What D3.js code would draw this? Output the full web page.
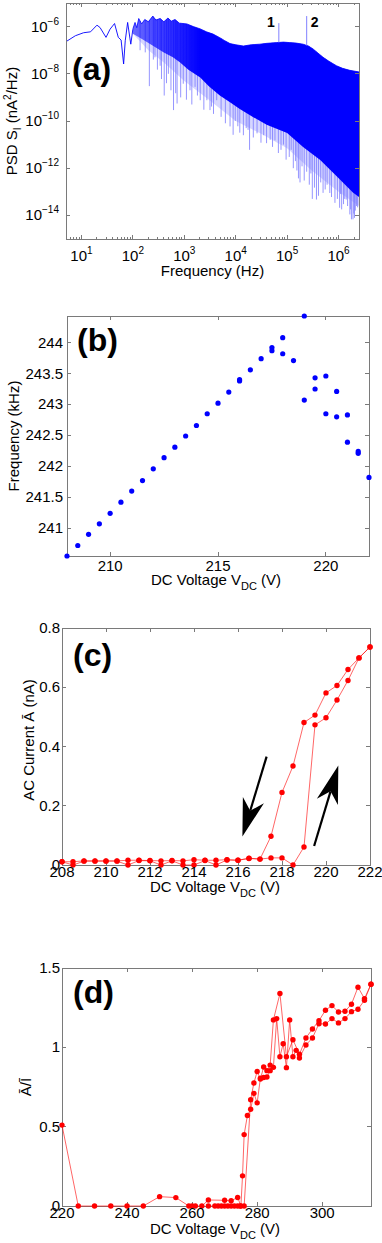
<!DOCTYPE html>
<html>
<head>
<meta charset="utf-8">
<script src="https://cdnjs.cloudflare.com/ajax/libs/d3/7.8.5/d3.min.js"></script>
<style>
  body { margin: 0; background: #fff; }
  text { font-family: "Liberation Sans", Arial, Helvetica, sans-serif; fill: #000; }
</style>
</head>
<body>
<div id="viz"></div>
<script>
// ========================================
// Data
// ========================================

// (a) PSD spectrum, [frequency Hz, PSD nA^2/Hz]
var psdLowLine = [[5, 2.3e-7], [7.6, 4.1e-7], [11, 5.5e-7], [15, 6.0e-7], [20, 1.15e-6], [23, 9.1e-7],
  [30, 3.5e-7], [36, 7.8e-7], [44, 1.35e-6], [52, 3.5e-7], [59, 2.7e-7], [66, 2.6e-8], [71, 2.5e-7],
  [79, 1.5e-6], [91, 1.8e-7], [100, 7.8e-7]];
var psdUpper = [[100, 8e-7], [110, 1.5e-6], [119, 9e-7], [130, 2.2e-6], [148, 1.3e-6], [170, 2.0e-6],
  [200, 1.6e-6], [244, 2.8e-6], [280, 1.9e-6], [339, 2.2e-6], [400, 1.6e-6], [480, 2.3e-6], [560, 1.7e-6],
  [660, 2.0e-6], [800, 1.4e-6], [1120, 1.3e-6], [1500, 1.0e-6], [2040, 8e-7], [2700, 6e-7], [3630, 4.8e-7],
  [4900, 3.4e-7], [6000, 2.6e-7], [7760, 1.9e-7], [1.0e4, 1.7e-7], [1.41e4, 1.5e-7], [2.0e4, 1.7e-7],
  [2.95e4, 1.8e-7], [4.0e4, 1.95e-7], [6.3e4, 2.1e-7], [8.5e4, 2.2e-7], [1.12e5, 2.1e-7], [1.5e5, 2.0e-7],
  [2.04e5, 1.8e-7], [2.6e5, 1.5e-7], [3.24e5, 1.1e-7], [4.0e5, 7.5e-8], [5.0e5, 5.0e-8], [6.5e5, 3.4e-8],
  [9.1e5, 2.2e-8], [1.2e6, 1.7e-8], [1.66e6, 1.4e-8], [2.5e6, 1.2e-8]];
var psdLower = [[100, 5e-7], [150, 3e-7], [250, 1.5e-7], [400, 8e-8], [600, 5e-8], [830, 3e-8],
  [1200, 1.5e-8], [2040, 7e-9], [3000, 3e-9], [4900, 1.2e-9], [8000, 6e-10], [1.2e4, 3.2e-10],
  [2.2e4, 1.45e-10], [4e4, 7e-11], [1e5, 3.1e-11], [2.04e5, 8e-12], [4.4e5, 2.2e-12], [9.3e5, 4.4e-13],
  [1.9e6, 9.3e-14], [2.5e6, 6e-14]];
var psdFringe = [[100, 5e-7], [200, 1e-7], [400, 3e-8], [1000, 5e-9], [3000, 8e-10], [1e4, 1e-10],
  [3e4, 3e-11], [1e5, 7e-12], [3e5, 8e-13], [1e6, 1e-13], [2.5e6, 2.5e-14]];
var psdSpikes = [[138, 1.0e-7], [174, 8.1e-8], [209, 3.0e-9], [250, 4e-8], [269, 5.0e-8], [300, 1.5e-8],
  [339, 2.2e-8], [360, 6e-9], [407, 1.2e-9], [450, 4e-9], [490, 1.0e-8], [550, 2e-9], [617, 2.9e-10],
  [680, 1.5e-9], [724, 5.5e-10], [850, 1e-9], [955, 3.8e-9], [1100, 8e-10], [1290, 2.0e-9], [1400, 5e-10],
  [1620, 2.8e-9], [1800, 1.2e-9], [2040, 7.6e-10], [2400, 3e-10], [2750, 7.6e-10], [3160, 2.9e-10],
  [3390, 4.1e-10], [3700, 2e-10], [4270, 7.6e-10], [5200, 1.5e-10], [6300, 8e-11], [7760, 5.9e-11],
  [8910, 2.6e-11], [9800, 1e-10], [11000, 6e-11], [12000, 3.2e-11], [14100, 2.5e-11], [16000, 5e-11],
  [17400, 4.2e-11], [18600, 6.0e-12], [22000, 2e-11], [26000, 3e-11], [31000, 1.2e-11], [35000, 2.5e-11],
  [39800, 1.15e-11], [46800, 1.6e-11], [52000, 8e-12], [58000, 1.5e-11], [67600, 4.4e-12], [76000, 6e-12],
  [85000, 1e-11], [95500, 2.3e-12], [110000, 3e-12], [120000, 6e-12], [132000, 1.0e-12], [145000, 2e-12],
  [155000, 8e-13], [166000, 3.7e-13], [178000, 2.5e-13], [195000, 1.2e-12], [215000, 3e-13],
  [240000, 7.1e-13], [270000, 2e-13], [290000, 6e-13], [309000, 5.0e-14], [340000, 1.5e-13],
  [372000, 4.7e-14], [407000, 6.8e-14], [450000, 2.5e-13], [500000, 9e-14], [550000, 1.26e-13],
  [600000, 2e-13], [676000, 8.9e-14], [730000, 6e-14], [851000, 3.4e-14], [950000, 5e-14],
  [1.05e6, 2.1e-14], [1.1e6, 8e-14], [1.15e6, 1.8e-14], [1.25e6, 3e-14], [1.32e6, 5.0e-14],
  [1.41e6, 4.7e-14], [1.5e6, 2.5e-14], [1.66e6, 1.1e-14], [1.72e6, 1.8e-14], [1.78e6, 6.8e-15],
  [1.91e6, 6.8e-15], [1.98e6, 1.2e-14], [2.04e6, 7.9e-15], [2.12e6, 1.6e-14], [2.24e6, 2.5e-14],
  [2.35e6, 2.2e-14]];
var psdPeaks = [{label: '1', f: 69000, psd: 1.4e-6}, {label: '2', f: 240000, psd: 2.8e-6}];
var psdXTicks = [1e1, 1e2, 1e3, 1e4, 1e5, 1e6];
var psdYTicks = [1e-14, 1e-12, 1e-10, 1e-8, 1e-6];

// (b) resonance frequency vs DC voltage
var bVolt = [208, 208.5, 209, 209.5, 210, 210.5, 211, 211.5, 212, 212.5, 213, 213.5, 214, 214.5, 215, 215.5,
  216, 216, 216.5, 217, 217.5, 217.5, 218, 218, 218.5, 219, 219, 219.5, 219.5, 220, 220, 220.5, 220.5,
  221, 221, 221.5, 221.5, 222];
var bFreq = [240.55, 240.72, 240.90, 241.07, 241.24, 241.42, 241.60, 241.77, 241.96, 242.14, 242.31, 242.49,
  242.66, 242.85, 243.02, 243.20, 243.38, 243.40, 243.56, 243.74, 243.92, 243.87, 244.08, 243.82, 243.71,
  244.43, 243.07, 243.43, 243.25, 243.46, 242.85, 243.21, 242.80, 242.83, 242.39, 242.24, 242.21, 241.82];
var bXTicks = [210, 215, 220];
var bYTicks = [241, 241.5, 242, 242.5, 243, 243.5, 244];

// (c) AC current, two sweeps
var cVolt = [208, 208.5, 209, 209.5, 210, 210.5, 211, 211.5, 212, 212.5, 213, 213.5, 214, 214.5, 215, 215.5,
  216, 216.5, 217, 217.5, 218, 218.5, 219, 219.5, 220, 220.5, 221, 221.5, 222];
var cSweepDown = [0.011, 0.011, 0.014, 0.014, 0.014, 0.014, 0.016, 0.016, 0.015, 0.014, 0.015, 0.014, 0.018,
  0.016, 0.016, 0.018, 0.016, 0.023, 0.020, 0.097, 0.245, 0.334, 0.481, 0.506, 0.581, 0.606, 0.660, 0.699, 0.736];
var cSweepUp = [0.011, 0.0, 0.013, 0.013, 0.013, 0.013, 0.0, 0.015, 0.014, 0.0, 0.014, 0.0, 0.0, 0.015, 0.0,
  0.017, 0.016, 0.022, 0.020, 0.024, 0.024, 0.0, 0.061, 0.473, 0.497, 0.557, 0.623, 0.699, 0.736];
var cXTicks = [208, 210, 212, 214, 216, 218, 220, 222];
var cYTicks = [0, 0.2, 0.4, 0.6, 0.8];
var cArrows = [{from: [217.3, 0.366], to: [216.2, 0.096]}, {from: [219.46, 0.064], to: [220.56, 0.336]}];

// (d) normalised AC current, two sweeps
var dUpVolt = [220, 225, 230, 235, 240, 245, 250, 255, 259, 260, 261, 263, 265, 270, 272, 274, 275, 275.5, 276,
  277, 278, 279, 280, 281, 282, 283, 284, 285, 286, 287, 288, 289, 290, 291, 292, 293, 295, 297, 299, 301,
  303, 305, 307, 309, 311, 313, 315];
var dUpRatio = [0.51, 0, 0, 0, 0, 0, 0.059, 0.053, 0, 0, 0, 0, 0.038, 0.036, 0.033, 0.054, 0, 0.19, 0.45,
  0.57, 0.61, 0.71, 0.65, 0.806, 0.81, 0.813, 0.853, 0.874, 1.181, 0.941, 1.023, 0.872, 1.173, 0.941, 0.981,
  0.933, 1.015, 1.059, 1.149, 1.147, 1.181, 1.154, 1.181, 1.225, 1.240, 1.297, 1.398];
var dDownVolt = [265, 267, 268, 269, 270, 271, 272, 273, 274, 274.8, 276, 278, 279, 280, 281, 282, 283, 284,
  285, 287, 289, 291, 293, 295, 297, 299, 301, 303, 305, 307, 309, 311, 313, 315];
var dDownRatio = [0, 0, 0, 0, 0, 0, 0, 0, 0, 0, 0, 0.67, 0.775, 0.848, 0.80, 0.876, 0.853, 0.888, 1.173,
  1.339, 0.941, 1.048, 0.956, 1.059, 1.116, 1.168, 1.234, 1.263, 1.223, 1.227, 1.272, 1.379, 1.307, 1.398];
var dXTicks = [220, 240, 260, 280, 300];
var dYTicks = [0, 0.5, 1, 1.5];

// ========================================
// SVG setup
// ========================================

var frame_color = '#7a7a7a',
    blue = '#0000ff',
    red = '#ff0000',
    tick_len = 4,
    font_size = 15;

var svg = d3.select('#viz')
   .append('svg')
   .attr('width', 382)
   .attr('height', 1243);

var defs = svg.append('defs');

function clipFor(id, x, y) {
   defs.append('clipPath').attr('id', id)
      .append('rect')
      .attr('x', x.range()[0]).attr('y', y.range()[1])
      .attr('width', x.range()[1] - x.range()[0])
      .attr('height', y.range()[0] - y.range()[1]);
   return 'url(#' + id + ')';
}

// box with inward ticks on all four sides
function drawFrame(x, y, xTicks, yTicks, xMinor) {
   var g = svg.append('g').attr('shape-rendering', 'crispEdges');
   var x0 = x.range()[0], x1 = x.range()[1], yb = y.range()[0], yt = y.range()[1];
   var segs = [];
   xTicks.forEach(t => { segs.push([x(t), yb, x(t), yb - tick_len], [x(t), yt, x(t), yt + tick_len]); });
   (xMinor || []).forEach(t => { segs.push([x(t), yb, x(t), yb - 2], [x(t), yt, x(t), yt + 2]); });
   yTicks.forEach(t => { segs.push([x0, y(t), x0 + tick_len, y(t)], [x1, y(t), x1 - tick_len, y(t)]); });
   g.selectAll('line').data(segs).enter().append('line')
      .attr('x1', d => d[0]).attr('y1', d => d[1])
      .attr('x2', d => d[2]).attr('y2', d => d[3])
      .style('stroke', frame_color).style('stroke-width', 1);
   g.append('rect')
      .attr('x', x0).attr('y', yt).attr('width', x1 - x0).attr('height', yb - yt)
      .style('fill', 'none').style('stroke', frame_color).style('stroke-width', 1);
}

function xTickLabels(x, yPos, ticks) {
   svg.append('g').selectAll('text').data(ticks).enter().append('text')
      .attr('x', d => x(d)).attr('y', yPos)
      .attr('text-anchor', 'middle')
      .style('font-size', font_size + 'px')
      .text(d => String(d));
}

function yTickLabels(y, xPos, ticks) {
   svg.append('g').selectAll('text').data(ticks).enter().append('text')
      .attr('x', xPos).attr('y', d => y(d) + 5)
      .attr('text-anchor', 'end')
      .style('font-size', font_size + 'px')
      .text(d => String(d));
}

function panelLetter(x, y, s) {
   svg.append('text').attr('x', x).attr('y', y)
      .style('font-size', '32px').style('font-weight', 'bold')
      .text(s);
}

function voltageLabel(cx, y) {
   var t = svg.append('text').attr('x', cx).attr('y', y)
      .attr('text-anchor', 'middle').style('font-size', font_size + 'px');
   t.append('tspan').text('DC Voltage V');
   t.append('tspan').attr('dy', 5).style('font-size', '11px').text('DC');
   t.append('tspan').attr('dy', -5).text(' (V)');
}

function yLabel(x, cy) {
   return svg.append('text')
      .attr('transform', `translate(${x}, ${cy}) rotate(-90)`)
      .attr('text-anchor', 'middle')
      .style('font-size', font_size + 'px');
}

// ========================================
// (a) PSD
// ========================================

var xA = d3.scaleLog().domain([5, 2.5e6]).range([66, 359]);
var yA = d3.scaleLog().domain([1e-15, 1e-5]).range([239, 3]);
var gA = svg.append('g').attr('clip-path', clipFor('clipA', xA, yA));

var ptA = d => [xA(d[0]), yA(d[1])];
var lineGen = d3.line();

// piecewise lookup of the band top in pixel space
var upperPx = d3.scaleLinear()
   .domain(psdUpper.map(d => xA(d[0])))
   .range(psdUpper.map(d => yA(d[1])));

var grad = defs.append('linearGradient').attr('id', 'bandGrad')
   .attr('gradientUnits', 'userSpaceOnUse')
   .attr('x1', xA(100)).attr('x2', xA(2000)).attr('y1', 0).attr('y2', 0);
grad.append('stop').attr('offset', 0).attr('stop-color', blue).attr('stop-opacity', 0.5);
grad.append('stop').attr('offset', 1).attr('stop-color', blue).attr('stop-opacity', 1);

// light fringe of downward excursions
gA.append('path')
   .attr('d', lineGen(psdUpper.map(ptA).concat(psdFringe.slice().reverse().map(ptA))) + 'Z')
   .style('fill', blue).style('fill-opacity', 0.16);

gA.selectAll('.spike').data(psdSpikes).enter().append('line')
   .attr('class', 'spike')
   .attr('x1', d => xA(d[0])).attr('x2', d => xA(d[0]))
   .attr('y1', d => upperPx(xA(d[0]))).attr('y2', d => yA(d[1]))
   .style('stroke', '#7a7aff').style('stroke-width', 0.8);

// dense band
gA.append('path')
   .attr('d', lineGen(psdUpper.map(ptA).concat(psdLower.slice().reverse().map(ptA))) + 'Z')
   .style('fill', 'url(#bandGrad)');

gA.append('path')
   .attr('d', lineGen(psdUpper.map(ptA)))
   .style('fill', 'none').style('stroke', blue).style('stroke-width', 0.8);

gA.append('path')
   .attr('d', lineGen(psdLowLine.map(ptA)))
   .style('fill', 'none').style('stroke', blue).style('stroke-width', 0.9);

gA.selectAll('.peak').data(psdPeaks).enter().append('line')
   .attr('class', 'peak')
   .attr('x1', d => xA(d.f)).attr('x2', d => xA(d.f))
   .attr('y1', d => upperPx(xA(d.f))).attr('y2', d => yA(d.psd))
   .style('stroke', '#8080ff').style('stroke-width', 1);

svg.selectAll('.peakLabel').data(psdPeaks).enter().append('text')
   .attr('x', (d, i) => i === 0 ? xA(d.f) - 4 : xA(d.f) + 4)
   .attr('y', 27)
   .attr('text-anchor', (d, i) => i === 0 ? 'end' : 'start')
   .style('font-size', '14px').style('font-weight', 'bold')
   .text(d => d.label);

var minorA = [];
[1, 10, 100, 1000, 1e4, 1e5, 1e6].forEach(dec => {
   [2, 3, 4, 5, 6, 7, 8, 9].forEach(m => {
      var v = dec * m;
      if (v >= 5 && v <= 2.5e6) minorA.push(v);
   });
});
drawFrame(xA, yA, psdXTicks, psdYTicks, minorA);

// power-of-ten tick labels
psdXTicks.forEach(t => {
   var txt = svg.append('text').attr('x', xA(t)).attr('y', 261)
      .attr('text-anchor', 'middle').style('font-size', font_size + 'px');
   txt.append('tspan').text('10');
   txt.append('tspan').attr('dy', -7).style('font-size', '10px').text(String(Math.round(Math.log10(t))));
});
psdYTicks.forEach(t => {
   var txt = svg.append('text').attr('x', 59).attr('y', yA(t) + 5)
      .attr('text-anchor', 'end').style('font-size', font_size + 'px');
   txt.append('tspan').text('10');
   txt.append('tspan').attr('dy', -7).style('font-size', '10px')
      .text('\u2212' + String(-Math.round(Math.log10(t))));
});

svg.append('text').attr('x', 212.5).attr('y', 276)
   .attr('text-anchor', 'middle').style('font-size', font_size + 'px')
   .text('Frequency (Hz)');

var labA = yLabel(17, 121);
labA.append('tspan').text('PSD S');
labA.append('tspan').attr('dy', 4).style('font-size', '10px').text('I');
labA.append('tspan').attr('dy', -4).text(' (nA');
labA.append('tspan').attr('dy', -6).style('font-size', '10px').text('2');
labA.append('tspan').attr('dy', 6).text('/Hz)');

panelLetter(72, 80, '(a)');

// ========================================
// (b) frequency vs voltage
// ========================================

var xB = d3.scaleLinear().domain(d3.extent(bVolt)).range([67, 369]);
var yB = d3.scaleLinear().domain(d3.extent(bFreq)).range([556, 316]);

drawFrame(xB, yB, bXTicks, bYTicks);

svg.append('g').selectAll('circle').data(bVolt).enter().append('circle')
   .attr('cx', d => xB(d)).attr('cy', (d, i) => yB(bFreq[i]))
   .attr('r', 2.6).style('fill', blue);

xTickLabels(xB, 571, bXTicks);
yTickLabels(yB, 63, bYTicks);
voltageLabel(216, 585);
yLabel(19, 436).text('Frequency (kHz)');
panelLetter(77, 351, '(b)');

// ========================================
// (c) AC current
// ========================================

var xC = d3.scaleLinear().domain(d3.extent(cVolt)).range([62, 370]);
var yC = d3.scaleLinear().domain([0, 0.8]).range([865, 628]);

drawFrame(xC, yC, cXTicks, cYTicks);

var lineC = d3.line().x(d => xC(d[0])).y(d => yC(d[1]));
[cSweepDown, cSweepUp].forEach(series => {
   var pts = cVolt.map((v, i) => [v, series[i]]);
   svg.append('path').attr('d', lineC(pts))
      .style('fill', 'none').style('stroke', red).style('stroke-opacity', 0.6).style('stroke-width', 1);
   svg.append('g').selectAll('circle').data(pts).enter().append('circle')
      .attr('cx', d => xC(d[0])).attr('cy', d => yC(d[1]))
      .attr('r', 2.7).style('fill', red);
});

// annotation arrows
cArrows.forEach(a => {
   var x1 = xC(a.from[0]), y1 = yC(a.from[1]), x2 = xC(a.to[0]), y2 = yC(a.to[1]);
   var ang = Math.atan2(y2 - y1, x2 - x1);
   var ux = Math.cos(ang), uy = Math.sin(ang), nx = -uy, ny = ux;
   var headLen = 38, half = 11, notch = 27;
   svg.append('line')
      .attr('x1', x1).attr('y1', y1)
      .attr('x2', x2 - ux * notch).attr('y2', y2 - uy * notch)
      .style('stroke', '#000').style('stroke-width', 2.2);
   var head = [
      [x2, y2],
      [x2 - ux * headLen + nx * half, y2 - uy * headLen + ny * half],
      [x2 - ux * notch, y2 - uy * notch],
      [x2 - ux * headLen - nx * half, y2 - uy * headLen - ny * half]
   ];
   svg.append('path').attr('d', d3.line()(head) + 'Z').style('fill', '#000');
});

xTickLabels(xC, 877, cXTicks);
yTickLabels(yC, 60, cYTicks);
voltageLabel(215, 892);
yLabel(34, 740).text('AC Current \u0100 (nA)');
panelLetter(73, 666, '(c)');

// ========================================
// (d) normalised current
// ========================================

var xD = d3.scaleLinear().domain([220, 315]).range([62, 371]);
var yD = d3.scaleLinear().domain([0, 1.5]).range([1206, 968]);

drawFrame(xD, yD, dXTicks, dYTicks);

var lineD = d3.line().x(d => xD(d[0])).y(d => yD(d[1]));
[[dUpVolt, dUpRatio], [dDownVolt, dDownRatio]].forEach(s => {
   var pts = s[0].map((v, i) => [v, s[1][i]]);
   svg.append('path').attr('d', lineD(pts))
      .style('fill', 'none').style('stroke', red).style('stroke-opacity', 0.6).style('stroke-width', 1);
   svg.append('g').selectAll('circle').data(pts).enter().append('circle')
      .attr('cx', d => xD(d[0])).attr('cy', d => yD(d[1]))
      .attr('r', 2.7).style('fill', red);
});

xTickLabels(xD, 1218, dXTicks);
yTickLabels(yD, 60, dYTicks);
voltageLabel(215, 1234);
yLabel(31, 1087).text('\u0100/\u012A');
panelLetter(73, 1003, '(d)');
</script>
</body>
</html>
